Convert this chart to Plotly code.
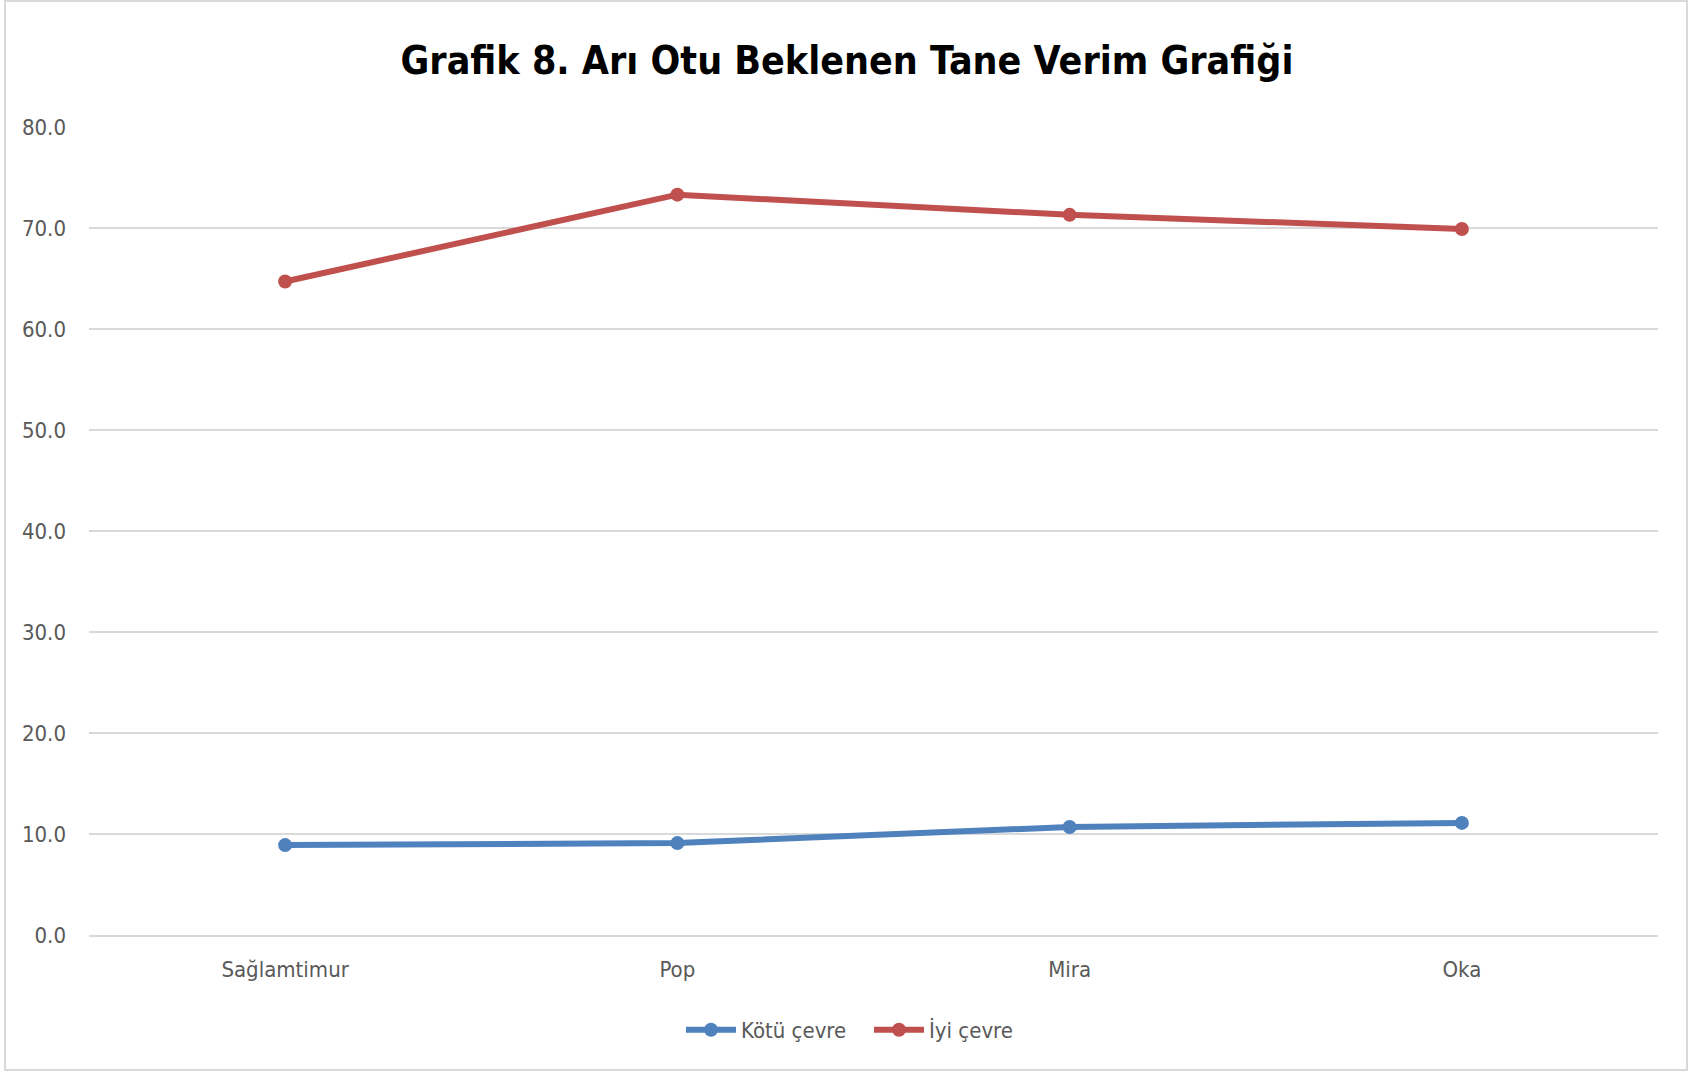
import plotly.graph_objects as go

categories = ["Sağlamtimur", "Pop", "Mira", "Oka"]
kotu_cevre = [8.9, 9.1, 10.7, 11.1]
iyi_cevre = [64.7, 73.3, 71.3, 69.9]
y_ticks = [0, 10, 20, 30, 40, 50, 60, 70, 80]

W, H = 1705, 1072
L, R, T, B = 89, 47, 127, 137

fig = go.Figure()
fig.add_trace(go.Scatter(
    x=categories, y=kotu_cevre, name="Kötü çevre", mode="lines+markers",
    line=dict(color="#4F81BD", width=6), marker=dict(size=14, color="#4F81BD"),
))
fig.add_trace(go.Scatter(
    x=categories, y=iyi_cevre, name="İyi çevre", mode="lines+markers",
    line=dict(color="#C0504D", width=6), marker=dict(size=14, color="#C0504D"),
))

pw = W - L - R
ph = H - T - B
def px_x(x):
    return (x - L) / pw
def px_y(y):
    return (H - B - y) / ph

FONT = "Liberation Sans Narrow, DejaVu Sans Condensed, sans-serif"

fig.update_layout(
    width=W, height=H,
    margin=dict(l=L, r=R, t=T, b=B),
    paper_bgcolor="white", plot_bgcolor="white",
    title=dict(
        text="<b>Grafik 8. Arı Otu Beklenen Tane Verim Grafiği</b>",
        x=px_x(847), xanchor="center", xref="paper", y=1 - 60 / H, yanchor="middle",
        font=dict(family=FONT, size=39, color="#000000"),
    ),
    xaxis=dict(
        type="category", range=[-0.5, 3.5], showgrid=False, zeroline=False,
        showline=True, linecolor="#D9D9D9", linewidth=2,
        ticks="", ticklabelstandoff=14,
        tickfont=dict(family=FONT, size=22, color="#595959"),
    ),
    yaxis=dict(
        range=[0, 80], tickvals=y_ticks, tickformat=".1f",
        showgrid=True, gridcolor="#D9D9D9", gridwidth=2, zeroline=False,
        showline=False, ticks="", ticklabelstandoff=22,
        tickfont=dict(family=FONT, size=22, color="#595959"),
    ),
    legend=dict(
        orientation="h", x=px_x(869), xanchor="center", y=px_y(1030), yanchor="middle",
        font=dict(family=FONT, size=22, color="#595959"),
        itemwidth=50, entrywidth=123, bgcolor="rgba(0,0,0,0)",
    ),
    showlegend=True,
    hovermode=False,
)

fig.add_shape(
    type="rect", xref="paper", yref="paper",
    x0=px_x(5), x1=px_x(1687), y0=px_y(1070), y1=px_y(1),
    line=dict(color="#D9D9D9", width=2), fillcolor="rgba(0,0,0,0)", layer="below",
)

fig.write_html(
    "out.html",
    config={"displayModeBar": False},
    post_script="document.body.style.margin='0';document.body.style.overflow='hidden';",
)
